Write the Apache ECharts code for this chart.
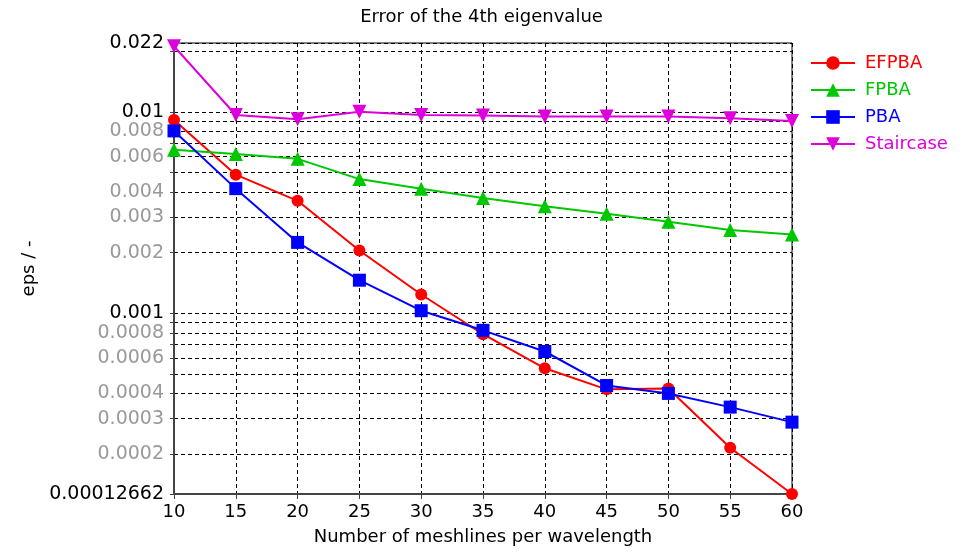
<!DOCTYPE html>
<html>
<head>
<meta charset="utf-8">
<script src="https://cdn.jsdelivr.net/npm/echarts@6/dist/echarts.min.js"></script>
<style>
html,body{margin:0;padding:0;background:#fff;}
#chart{width:963px;height:555px;}
</style>
</head>
<body>
<div id="chart"></div>
<script>
const xValues = [10, 15, 20, 25, 30, 35, 40, 45, 50, 55, 60];
const efpba = [0.00913, 0.00488, 0.00362, 0.00205, 0.00124, 0.000787, 0.000533, 0.000419, 0.000423, 0.000215, 0.00012662];
const fpba = [0.00649, 0.00618, 0.00585, 0.00464, 0.00416, 0.00374, 0.00340, 0.00312, 0.00285, 0.00259, 0.00246];
const pba = [0.00805, 0.00416, 0.00225, 0.00146, 0.00103, 0.000823, 0.000646, 0.000438, 0.000400, 0.000342, 0.000288];
const staircase = [0.0212, 0.00966, 0.00920, 0.01003, 0.00966, 0.00960, 0.00948, 0.00948, 0.00948, 0.00930, 0.00902];

const yTickValues = [0.00012662, 0.0002, 0.0003, 0.0004, 0.0005, 0.0006, 0.0007, 0.0008, 0.0009,
  0.001, 0.002, 0.003, 0.004, 0.005, 0.006, 0.007, 0.008, 0.009, 0.01, 0.02, 0.022];
const yLabelTexts = ['0.00012662', '0.0002', '0.0003', '0.0004', '0.0006', '0.0008',
  '0.001', '0.002', '0.003', '0.004', '0.006', '0.008', '0.01', '0.022'];
const yMajorLabels = ['0.00012662', '0.001', '0.01', '0.022'];

const FONT = 'DejaVu Sans';
const colors = { EFPBA: '#ff0000', FPBA: '#00c800', PBA: '#0000ff', Staircase: '#dd00dd' };

function pairs(ys) { return xValues.map((x, i) => [x, ys[i]]); }

function labelFor(v) {
  let best = null, bd = Infinity;
  for (const s of yLabelTexts) {
    const d = Math.abs(Math.log(parseFloat(s)) - Math.log(v));
    if (d < bd) { bd = d; best = s; }
  }
  if (bd > 0.01) return '';
  return (yMajorLabels.indexOf(best) >= 0 ? '{k|' : '{g|') + best + '}';
}

function mk(name, ys, symbol, size, rotate) {
  return {
    name: name, type: 'line', data: pairs(ys),
    symbol: symbol, symbolSize: size, symbolRotate: rotate || 0,
    lineStyle: { color: colors[name], width: 2 },
    itemStyle: { color: colors[name] },
    animation: false
  };
}

const chart = echarts.init(document.getElementById('chart'));
chart.setOption({
  backgroundColor: '#fff',
  animation: false,
  title: {
    text: 'Error of the 4th eigenvalue', left: 'center', top: 3,
    textStyle: { fontFamily: FONT, fontSize: 18, fontWeight: 'normal', color: '#000' }
  },
  legend: {
    orient: 'vertical', left: 805, top: 49, itemWidth: 44, itemHeight: 17, itemGap: 9,
    textStyle: { fontFamily: FONT, fontSize: 18, padding: [0, 0, 0, 5] },
    data: Object.keys(colors).map(n => ({ name: n, textStyle: { color: colors[n] } }))
  },
  grid: {
    left: 174, right: 171, top: 43, bottom: 61,
    show: true, borderColor: '#000', borderWidth: 1
  },
  xAxis: {
    type: 'value', min: 10, max: 60, interval: 5,
    name: 'Number of meshlines per wavelength', nameLocation: 'middle', nameGap: 34,
    nameTextStyle: { fontFamily: FONT, fontSize: 18, color: '#000' },
    axisLine: { lineStyle: { color: '#444', width: 2 } },
    axisTick: { show: true, length: 5, lineStyle: { color: '#444' } },
    axisLabel: { fontFamily: FONT, fontSize: 18, color: '#000', margin: 9 },
    splitLine: { show: true, lineStyle: { color: '#000', type: [4, 3], width: 1 } }
  },
  yAxis: {
    type: 'log', logBase: 10, min: 0.00012662, max: 0.022,
    name: 'eps / -', nameLocation: 'middle', nameGap: 136, nameRotate: 90,
    nameTextStyle: { fontFamily: FONT, fontSize: 18, color: '#000' },
    axisLine: { show: true, lineStyle: { color: '#444', width: 2 } },
    axisTick: { show: true, length: 4, customValues: yTickValues, lineStyle: { color: '#444' } },
    axisLabel: {
      customValues: yLabelTexts.map(s => parseFloat(s)),
      margin: 10, formatter: labelFor,
      rich: {
        k: { fontFamily: FONT, fontSize: 19, color: '#000' },
        g: { fontFamily: FONT, fontSize: 19, color: '#999' }
      }
    },
    splitLine: { show: true, lineStyle: { color: '#000', type: [4, 3], width: 1 } }
  },
  series: [
    mk('EFPBA', efpba, 'circle', 12),
    mk('FPBA', fpba, 'triangle', 14),
    mk('PBA', pba, 'rect', 13),
    mk('Staircase', staircase, 'triangle', 14, 180)
  ]
});
</script>
</body>
</html>
